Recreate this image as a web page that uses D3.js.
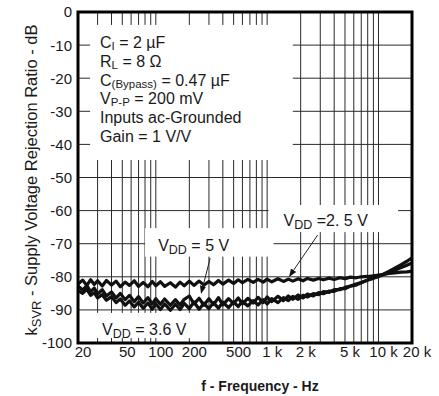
<!DOCTYPE html>
<html lang="en">
<head>
  <meta charset="UTF-8">
  <title>kSVR vs Frequency</title>
  <style>
    body { margin: 0; background: #fff; }
    svg { display: block; font-family: "Liberation Sans", Arial, sans-serif; }
    .tick-label { font-size: 15px; fill: #1a1a1a; }
    .note { font-size: 16px; fill: #1a1a1a; }
  </style>
  <script src="https://d3js.org/d3.v7.min.js"></script>
</head>
<body>
<svg id="chart"></svg>
<script>
  // Data
  const freq = [20, 22, 24, 26, 28, 30, 33, 36, 40, 44, 48, 53, 58, 64, 70, 77, 85, 93, 100,
    110, 120, 135, 150, 165, 180, 200, 220, 245, 270, 300, 330, 365, 400, 450, 500, 550, 600,
    670, 750, 830, 920, 1000, 1100, 1250, 1400, 1550, 1700, 1900, 2100, 2300, 2600, 2900, 3200,
    3600, 4000, 4500, 5000, 5600, 6300, 7000, 8000, 9000, 10000, 11000, 12500, 14000, 16000,
    18000, 20000];

  const vdd25 = [-82.2, -81.0, -82.6, -80.9, -82.3, -81.2, -82.8, -81.1, -82.5, -81.3, -83.0,
    -81.6, -82.6, -81.2, -82.9, -81.7, -83.0, -81.4, -82.7, -81.5, -82.9, -81.8, -83.1, -81.6,
    -82.7, -81.3, -82.6, -81.3, -82.5, -81.4, -82.4, -81.1, -82.2, -81.0, -82.0, -80.9, -81.8,
    -80.8, -81.7, -80.8, -81.6, -80.7, -81.5, -80.6, -81.4, -80.7, -81.3, -80.6, -81.2, -80.5,
    -81.0, -80.5, -80.9, -80.4, -80.8, -80.3, -80.6, -80.1, -80.3, -80.0, -79.9, -79.7, -79.5,
    -79.3, -79.0, -78.8, -78.6, -78.5, -78.3];

  const vdd5 = [-82.8, -84.0, -82.7, -84.5, -83.4, -85.2, -83.9, -85.8, -84.6, -86.4, -85.0,
    -86.9, -85.6, -87.5, -86.0, -87.9, -86.3, -88.2, -86.6, -88.3, -86.7, -88.6, -86.9, -88.5,
    -86.8, -85.8, -88.2, -86.5, -88.6, -86.6, -88.4, -86.3, -88.5, -86.6, -88.1, -86.4, -88.2,
    -86.5, -87.9, -86.2, -87.8, -86.1, -87.5, -85.9, -87.2, -85.8, -86.8, -85.5, -86.4, -85.2,
    -85.8, -84.8, -85.1, -84.3, -84.4, -83.6, -83.6, -82.8, -82.5, -81.8, -81.0, -80.4, -79.8,
    -79.2, -78.3, -77.4, -76.3, -75.3, -74.3];

  const vdd36 = [-84.2, -85.0, -83.8, -85.6, -84.8, -86.4, -85.4, -87.1, -86.0, -87.8, -86.7,
    -88.6, -87.3, -89.1, -87.7, -89.5, -87.9, -89.8, -88.1, -89.9, -88.2, -90.1, -88.3, -89.9,
    -88.0, -89.6, -87.6, -89.8, -88.0, -89.6, -87.8, -89.5, -87.7, -89.3, -87.6, -89.0, -87.4,
    -88.8, -87.2, -88.5, -86.9, -88.2, -86.6, -87.8, -86.3, -87.2, -85.9, -86.8, -85.6, -86.1,
    -85.1, -85.4, -84.5, -84.7, -83.9, -83.9, -83.2, -82.8, -82.2, -81.7, -81.0, -80.4, -79.9,
    -79.4, -78.7, -78.0, -77.2, -76.5, -75.8];

  const xTickValues = [20, 50, 100, 200, 500, 1000, 2000, 5000, 10000, 20000];
  const xTickLabels = ["20", "50", "100", "200", "500", "1 k", "2 k", "5 k", "10 k", "20 k"];
  const yTickValues = [0, -10, -20, -30, -40, -50, -60, -70, -80, -90, -100];

  const W = 439, H = 396;
  const svg = d3.select("#chart").attr("width", W).attr("height", H);

  const x = d3.scaleLog().domain([20, 20000]).range([78, 412]);
  const y = d3.scaleLinear().domain([-100, 0]).range([343, 12]);

  // vertical grid: every 1-2-3...9 step up to 10 k
  const gridF = [];
  [10, 100, 1000, 10000].forEach(dec => {
    for (let k = 1; k < 10; k++) {
      const f = dec * k;
      if (f > 20 && f <= 10000) gridF.push(f);
    }
  });

  const grid = svg.append("g").attr("stroke", "#2a2a2a").attr("stroke-width", 1);
  grid.selectAll("line.v").data(gridF).join("line")
    .attr("x1", d => x(d)).attr("x2", d => x(d))
    .attr("y1", y(0)).attr("y2", y(-100));
  grid.selectAll("line.h").data(yTickValues.filter(v => v !== 0 && v !== -100)).join("line")
    .attr("x1", x(20)).attr("x2", x(20000))
    .attr("y1", d => y(d)).attr("y2", d => y(d));

  // white boxes behind the notes (in data coords)
  const boxes = [
    {f0: 25.7, f1: 1700, d0: -3.9, d1: -44.7},
    {f0: 80, f1: 1140, d0: -65.3, d1: -73.9},
    {f0: 1030, f1: 15000, d0: -58.3, d1: -66.5},
    {f0: 21.7, f1: 250, d0: -90.9, d1: -98.5}
  ];
  svg.append("g").selectAll("rect").data(boxes).join("rect")
    .attr("x", d => x(d.f0)).attr("y", d => y(d.d0))
    .attr("width", d => x(d.f1) - x(d.f0)).attr("height", d => y(d.d1) - y(d.d0))
    .attr("fill", "#fff");

  // curves
  const line = d3.line().x((d, i) => x(freq[i])).y(d => y(d));
  [vdd25, vdd5, vdd36].forEach(s => {
    svg.append("path").datum(s)
      .attr("fill", "none").attr("stroke", "#111").attr("stroke-width", 3.2)
      .attr("stroke-linejoin", "round")
      .attr("d", line);
  });

  // frame
  svg.append("rect")
    .attr("x", x(20)).attr("y", y(0))
    .attr("width", x(20000) - x(20)).attr("height", y(-100) - y(0))
    .attr("fill", "none").attr("stroke", "#000").attr("stroke-width", 3);

  // axis labels
  svg.append("g").selectAll("text").data(yTickValues).join("text")
    .attr("class", "tick-label")
    .attr("x", 72).attr("y", d => y(d)).attr("dy", "0.36em")
    .attr("text-anchor", "end")
    .text(d => d);

  svg.append("g").selectAll("text").data(xTickValues).join("text")
    .attr("class", "tick-label")
    .attr("x", d => x(d) + 5).attr("y", 357)
    .attr("text-anchor", "middle")
    .text((d, i) => xTickLabels[i]);

  svg.append("text")
    .attr("x", 260).attr("y", 391)
    .attr("text-anchor", "middle")
    .attr("font-size", 14).attr("font-weight", "bold").attr("fill", "#1a1a1a")
    .text("f - Frequency - Hz");

  const yt = svg.append("text")
    .attr("transform", "translate(37,180) rotate(-90)")
    .attr("text-anchor", "middle")
    .attr("font-size", 16.5).attr("fill", "#1a1a1a");
  yt.append("tspan").text("k");
  yt.append("tspan").attr("font-size", 13).attr("dy", 4).text("SVR");
  yt.append("tspan").attr("dy", -4).text(" - Supply Voltage Rejection Ratio - dB");

  // condition notes
  const notes = [
    ["C", "I", " = 2 \u00b5F"],
    ["R", "L", " = 8 \u03a9"],
    ["C", "(Bypass)", " = 0.47 \u00b5F"],
    ["V", "P-P", " = 200 mV"],
    ["Inputs ac-Grounded", "", ""],
    ["Gain = 1 V/V", "", ""]
  ];
  const noteG = svg.append("g");
  notes.forEach((n, i) => {
    const t = noteG.append("text").attr("class", "note")
      .attr("x", 100).attr("y", 48 + i * 18.8);
    t.append("tspan").text(n[0]);
    if (n[1]) {
      t.append("tspan").attr("font-size", 11.5).attr("dy", 2).text(n[1]);
      t.append("tspan").attr("dy", -2).text(n[2]);
    }
  });

  // curve labels
  const curveLabels = [
    {f: 105, d: -72.2, v: " = 5 V"},
    {f: 1404, d: -64.7, v: " =2. 5 V"},
    {f: 32.9, d: -97.7, v: " = 3.6 V"}
  ];
  curveLabels.forEach(c => {
    const t = svg.append("text").attr("class", "note")
      .attr("x", x(c.f)).attr("y", y(c.d));
    t.append("tspan").text("V");
    t.append("tspan").attr("font-size", 12.5).attr("dy", 3).text("DD");
    t.append("tspan").attr("dy", -3).text(c.v);
  });

  // leader arrows
  const arrows = [
    {f0: 308, d0: -74.3, f1: 256, d1: -84.9},
    {f0: 2840, d0: -67.4, f1: 1590, d1: -79.8}
  ];
  svg.append("defs").append("marker")
    .attr("id", "head").attr("viewBox", "0 0 10 10")
    .attr("refX", 9).attr("refY", 5)
    .attr("markerWidth", 8).attr("markerHeight", 8)
    .attr("orient", "auto")
    .append("path").attr("d", "M0,1 L10,5 L0,9 Z").attr("fill", "#111");
  svg.append("g").selectAll("line").data(arrows).join("line")
    .attr("x1", d => x(d.f0)).attr("y1", d => y(d.d0))
    .attr("x2", d => x(d.f1)).attr("y2", d => y(d.d1))
    .attr("stroke", "#222").attr("stroke-width", 1)
    .attr("marker-end", "url(#head)");
</script>
</body>
</html>
